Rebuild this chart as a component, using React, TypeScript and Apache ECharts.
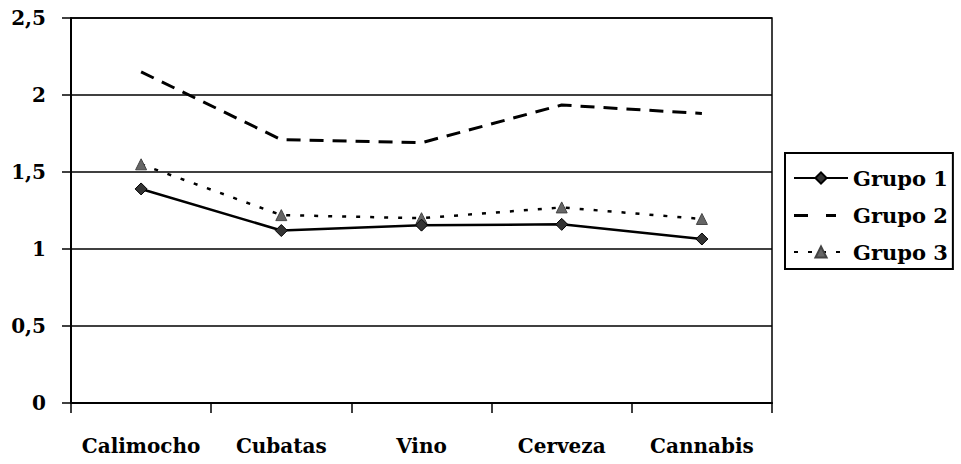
import React, { useEffect, useRef } from "react";
import * as echarts from "echarts";

const categories = ["Calimocho", "Cubatas", "Vino", "Cerveza", "Cannabis"];
const grupo1 = [1.39, 1.12, 1.155, 1.16, 1.065];
const grupo2 = [2.15, 1.71, 1.69, 1.935, 1.88];
const grupo3 = [1.55, 1.22, 1.2, 1.27, 1.195];
const seriesNames = ["Grupo 1", "Grupo 2", "Grupo 3"];

const FONT = "DejaVu Serif";

export default function App() {
  const ref = useRef<HTMLDivElement>(null);
  useEffect(() => {
    if (!ref.current) return;
    const chart = echarts.init(ref.current, undefined, { renderer: "svg" });
    chart.setOption({
      animation: false,
      backgroundColor: "#ffffff",
      grid: {
        left: 71,
        right: 189,
        top: 18,
        bottom: 61,
        show: true,
        borderColor: "#000",
        borderWidth: 1.5,
        backgroundColor: "transparent",
      },
      legend: {
        orient: "vertical",
        left: 785,
        top: 153,
        padding: [14, 5, 6, 8],
        itemGap: 15,
        itemWidth: 54,
        itemHeight: 14,
        borderColor: "#000",
        borderWidth: 2,
        data: [
          { name: seriesNames[0] },
          {
            name: seriesNames[1],
            icon: "path://M0,0L0.01,0M54,14L53.99,14M0,6h14v3h-14z M32,6h10v3h-10z",
          },
          { name: seriesNames[2] },
        ],
        textStyle: {
          fontFamily: FONT,
          fontWeight: "bold",
          fontSize: 21,
          color: "#000",
          lineHeight: 22,
        },
      },
      xAxis: {
        type: "category",
        data: categories,
        boundaryGap: true,
        axisLine: { lineStyle: { color: "#000", width: 2 } },
        axisTick: {
          show: true,
          interval: 0,
          length: 10,
          inside: false,
          lineStyle: { color: "#000", width: 1.5 },
        },
        axisLabel: {
          interval: 0,
          margin: 33,
          color: "#000",
          fontFamily: FONT,
          fontWeight: "bold",
          fontSize: 20,
        },
        splitLine: { show: false },
      },
      yAxis: {
        type: "value",
        min: 0,
        max: 2.5,
        interval: 0.5,
        axisLine: { show: true, lineStyle: { color: "#000", width: 2 } },
        axisTick: { show: true, length: 9, inside: false, lineStyle: { color: "#000", width: 1.5 } },
        axisLabel: {
          margin: 25,
          color: "#000",
          fontFamily: FONT,
          fontWeight: "bold",
          fontSize: 20,
          formatter: (v: number) => String(v).replace(".", ","),
        },
        splitLine: { show: true, lineStyle: { color: "#000", width: 1.5 } },
      },
      series: [
        {
          name: seriesNames[0],
          type: "line",
          data: grupo1,
          symbol: "diamond",
          symbolSize: 12,
          itemStyle: { color: "#333", borderColor: "#000", borderWidth: 1 },
          lineStyle: { color: "#000", width: 2.5, type: "solid" },
          z: 4,
        },
        {
          name: seriesNames[1],
          type: "line",
          data: grupo2,
          symbol: "none",
          itemStyle: { color: "#000" },
          lineStyle: { color: "#000", width: 3, type: [14, 9] },
          z: 3,
        },
        {
          name: seriesNames[2],
          type: "line",
          data: grupo3,
          symbol: "triangle",
          symbolSize: 11,
          itemStyle: { color: "#666", borderColor: "#444", borderWidth: 1 },
          lineStyle: { color: "#000", width: 2.5, type: [4, 10] },
          z: 3,
        },
      ],
    });
    return () => chart.dispose();
  }, []);
  return (
    <div
      ref={ref}
      style={{ position: "absolute", left: 0, top: 0, width: 961, height: 464 }}
    />
  );
}
